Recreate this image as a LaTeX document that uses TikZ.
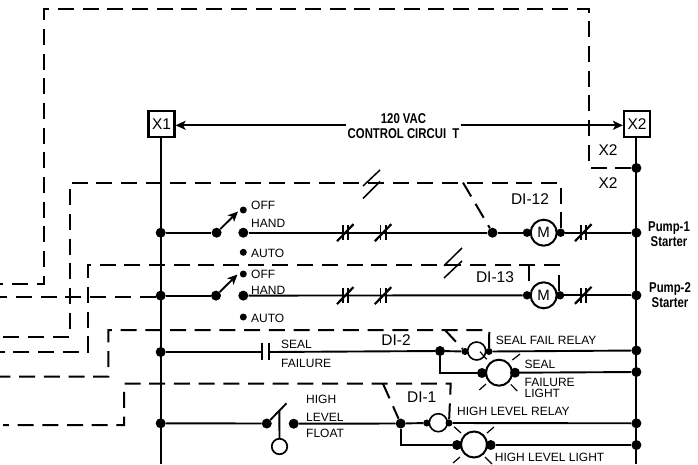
\documentclass[tikz,border=0pt]{standalone}
\usepackage{fontspec}
\setmainfont{Liberation Sans}
\newfontfamily\condfont[FakeStretch=0.8]{Liberation Sans}
\usetikzlibrary{arrows.meta}
\tikzset{
  x=1pt,y=-1pt,
  wire/.style={line width=1.9pt},
  thin wire/.style={line width=1.2pt},
  ctrl/.style={line width=2pt,dash pattern=on 16pt off 8.7pt},
  bigdot/.style={circle,fill=black,inner sep=0pt,minimum size=10pt},
  smalldot/.style={circle,fill=black,inner sep=0pt,minimum size=7pt},
  lamp/.style={circle,draw,line width=2pt,fill=white,inner sep=0pt,minimum size=26pt},
  relay/.style={circle,draw,line width=1.6pt,fill=white,inner sep=0pt,minimum size=18pt},
  term/.style={draw,line width=2.2pt,fill=white,inner sep=0pt,minimum size=26pt,font=\fontsize{15.5}{15.5}\selectfont},
  lab/.style={anchor=west,inner sep=0pt,font=\fontsize{12}{12}\selectfont},
  dilab/.style={inner sep=0pt,font=\fontsize{15.5}{15.5}\selectfont},
  bold/.style={inner sep=0pt,align=center,font=\condfont\bfseries\fontsize{14.2}{14.8}\selectfont},
  tip/.style={-{Stealth[length=10pt,width=9pt,inset=2.5pt]}}
}
\begin{document}
\begin{tikzpicture}
\useasboundingbox (0,0) rectangle (698,464);
% rails
\node[term] (x1) at (161.5,124) {X1};
\node[term] (x2) at (637,124) {X2};
\coordinate (railLend) at (160.7,464);
\coordinate (railRend) at (636.4,464);
\draw[wire] (160.7,137) -- (railLend);
\draw[wire] (636.4,137) -- (railRend);
% junction dots on rails
\node[bigdot] (ltop) at (160.7,232.7) {};
\node[bigdot] (l2) at (160.7,295.6) {};
\node[bigdot] (l3) at (160.7,352) {};
\node[bigdot] (l4) at (160.7,423.3) {};
\node[bigdot] (rx) at (636.4,168) {};
\node[bigdot] (r1) at (636.4,232.7) {};
\node[bigdot] (r2) at (636.4,295.3) {};
\node[bigdot] (r3) at (636.4,350.5) {};
\node[bigdot] (r3b) at (636.4,372) {};
\node[bigdot] (r4) at (636.4,423.3) {};
\node[bigdot] (r4b) at (636.4,445) {};
% title
\node[bold] (ctl) at (403.5,126.5) {120 VAC\\CONTROL CIRCUI\hspace{3pt} T};
\coordinate (ctlL) at (346,125.3);
\coordinate (ctlR) at (460.7,125.3);
\draw[wire,tip] (ctlL) -- (x1.east |- ctlL);
\draw[wire,tip] (ctlR) -- (x2.west |- ctlR);
% dashed control lines
\coordinate (a0) at (0,284.3);
\coordinate (a1) at (44.3,284.3);
\coordinate (a2) at (44.3,9);
\coordinate (a3) at (589,9);
\coordinate (a4) at (589,168);
\draw[ctrl] (rx) -- (a4) -- (a3) -- (a2) -- (a1) -- (a0);
\coordinate (b0) at (0,336.7);
\coordinate (b1) at (69.7,336.7);
\coordinate (b2) at (69.7,182.6);
\coordinate (b3) at (560.7,182.6);
\coordinate (b4) at (463,182.6);
\coordinate (c0) at (0,351.7);
\coordinate (c1) at (88,351.7);
\coordinate (c2) at (88,265);
\coordinate (c3) at (559,265);
\coordinate (c4) at (529,265);
\coordinate (c5) at (529,284);
\coordinate (d0) at (0,296.7);
\coordinate (e0) at (0,376.7);
\coordinate (e1) at (108.3,376.7);
\coordinate (e2) at (108.3,330);
\coordinate (e3) at (489.3,330);
\coordinate (e4) at (445,330);
\coordinate (f0) at (3,425);
\coordinate (f1) at (124,425);
\coordinate (f2) at (124,383.7);
\coordinate (f3) at (450.7,383.7);
\coordinate (f4) at (383,383.7);
% rung 1
\node[bigdot] (s1) at (216.6,232.7) {};
\node[smalldot] (off1) at (243.3,210) {};
\node[bigdot] (hand1) at (243.3,232.7) {};
\node[smalldot] (auto1) at (243.3,252.3) {};
\node[bigdot] (j1) at (492.5,232.7) {};
\node[smalldot,minimum size=8.5pt] (m1l) at (527,232.7) {};
\node[lamp] (m1) at (543.7,232.7) {\fontsize{15}{15}\selectfont M};
\node[smalldot,minimum size=8.5pt] (m1r) at (560.7,232.7) {};
\draw[wire] (ltop) -- (s1);
\draw[wire,tip] (s1) -- (238,211.5);
\draw[wire] (hand1) -- (j1) -- (m1l);
\draw[wire] (m1r) -- (r1);
% rung 2
\node[bigdot] (s2) at (216,295.6) {};
\node[smalldot] (off2) at (243.3,274) {};
\node[bigdot] (hand2) at (243.3,295.6) {};
\node[smalldot] (auto2) at (243.3,317) {};
\node[smalldot,minimum size=8.5pt] (m2l) at (527,295.3) {};
\node[lamp] (m2) at (543.7,295.3) {\fontsize{15}{15}\selectfont M};
\node[smalldot,minimum size=8.5pt] (m2r) at (560,295.3) {};
\draw[wire] (l2) -- (s2);
\draw[wire,tip] (s2) -- (237.5,274.5);
\draw[wire] (hand2) -- (m2l);
\draw[wire] (m2r) -- (r2);
% normally closed contacts
\foreach \cx/\cy in {345.5/232.7,383.3/232.7,345.5/295.6,383.3/295.6,583.5/232.7,583.5/295.3}{
  \draw[wire] (\cx-2.8,\cy-7.5) -- (\cx-2.8,\cy+7.5);
  \draw[wire] (\cx+2.8,\cy-7.5) -- (\cx+2.8,\cy+7.5);
  \draw[wire,line width=2.2pt] (\cx-8.5,\cy+8.5) -- (\cx+8,\cy-8.5);
}
% break marks
\draw[line width=1.5pt] (363,186) -- (380,170);
\draw[line width=1.5pt] (363,198.5) -- (380,181.5);
\draw[line width=1.5pt] (444,265.7) -- (462,248);
\draw[line width=1.5pt] (444,278) -- (462,261);
% rung 3
\node[bigdot] (j3) at (440,351) {};
\node[smalldot] (rl3) at (465,351.5) {};
\node[relay] (rel3) at (476.7,351) {};
\node[smalldot] (rr3) at (489,351.5) {};
\node[bigdot] (lm3l) at (482,373) {};
\node[lamp] (lamp3) at (499,372.7) {};
\node[bigdot] (lm3r) at (515,372.7) {};
\coordinate (cap1) at (262.3,352);
\coordinate (cap2) at (268.7,352);
\coordinate (j3b) at (440,373);
\draw[wire] (l3) -- (cap1);
\draw[wire] (cap2) -- (j3);
\draw[wire] (cap1 |- 0,343) -- (cap1 |- 0,359.5);
\draw[wire] (cap2 |- 0,343) -- (cap2 |- 0,359.5);
\draw[wire] (j3) -- (rl3);
\draw[wire] (rr3) -- (r3);
\draw[wire] (j3) -- (j3b) -- (lm3l);
\draw[wire] (lm3r) -- (r3b);
\draw[thin wire] (480,351.7) -- (486.7,359.3) (512.3,360) -- (520,354) (479.3,390) -- (486,384) (510.7,384.3) -- (517.3,391);
% rung 4
\node[bigdot] (s4) at (266.8,423.5) {};
\node[bigdot] (c4b) at (293.7,423.7) {};
\node[circle,draw,line width=1.7pt,inner sep=0pt,minimum size=15.5pt] (fl) at (279.5,446.5) {};
\coordinate (armtip) at (286.5,403.3);
\coordinate (armrod) at (279.3,411);
\node[bigdot] (j4) at (400.7,423.5) {};
\node[smalldot] (rl4) at (426.7,423) {};
\node[relay] (rel4) at (438.3,422.7) {};
\node[smalldot] (rr4) at (449,423) {};
\node[bigdot] (lm4l) at (457,445) {};
\node[lamp] (lamp4) at (474,444.5) {};
\node[bigdot] (lm4r) at (490.7,445) {};
\coordinate (j4b) at (400.7,445);
\draw[wire] (l4) -- (s4);
\draw[wire] (s4) -- (armtip);
\draw[wire] (armrod) -- (fl.north);
\draw[wire] (c4b) -- (j4) -- (rl4);
\draw[wire] (rr4) -- (r4);
\draw[wire] (j4) -- (j4b) -- (lm4l);
\draw[wire] (lm4r) -- (r4b);
\draw[thin wire] (454,426.7) -- (461,433) (487,433) -- (494,427) (453,463) -- (460,457) (485,457) -- (492,464);
% dashed lines, continued
\draw[ctrl] (b3 |- m1r.north) -- (b3) -- (b2) -- (b1) -- (b0);
\draw[ctrl] (b4) -- (j1);
\draw[ctrl] (c3 |- m2r.north) -- (c3) -- (c2) -- (c1) -- (c0);
\draw[ctrl] (c4) -- (c5);
\draw[ctrl] (l2.west |- d0) -- (d0);
\draw[ctrl] (rr3) -- (e3) -- (e2) -- (e1) -- (e0);
\draw[ctrl] (e4) -- (rl3);
\draw[ctrl] (rr4) -- (f3) -- (f2) -- (f1) -- (f0);
\draw[ctrl] (f4) -- (j4);
% labels
\node[lab] (t1) at (251,205) {OFF};
\node[lab] (t2) at (251,223) {HAND};
\node[lab] (t3) at (251,253) {AUTO};
\node[lab] (t4) at (251,274) {OFF};
\node[lab] (t5) at (251,290) {HAND};
\node[lab] (t6) at (251,318.5) {AUTO};
\node[lab] (t7) at (281,344) {SEAL};
\node[lab] (t8) at (281,363) {FAILURE};
\node[lab] (t9) at (306,399.5) {HIGH};
\node[lab] (t10) at (306,417) {LEVEL};
\node[lab] (t11) at (306,433) {FLOAT};
\node[lab] (t12) at (495.7,340.5) {SEAL FAIL RELAY};
\node[lab] (t13) at (524.5,364.5) {SEAL};
\node[lab] (t14) at (524.5,382) {FAILURE};
\node[lab] (t15) at (524.5,393.5) {LIGHT};
\node[lab] (t16) at (457,411.5) {HIGH LEVEL RELAY};
\node[lab] (t17) at (494.7,457) {HIGH LEVEL LIGHT};
\node[dilab] (x2a) at (608,150) {X2};
\node[dilab] (x2b) at (608,183) {X2};
\node[dilab] (di12) at (530,199) {DI-12};
\node[dilab] (di13) at (495,277) {DI-13};
\node[dilab] (di2) at (396,340) {DI-2};
\node[dilab] (di1) at (421.7,397) {DI-1};
\node[bold] (p1) at (669,234) {Pump-1\\Starter};
\node[bold] (p2) at (670,295) {Pump-2\\Starter};
\end{tikzpicture}
\end{document}
